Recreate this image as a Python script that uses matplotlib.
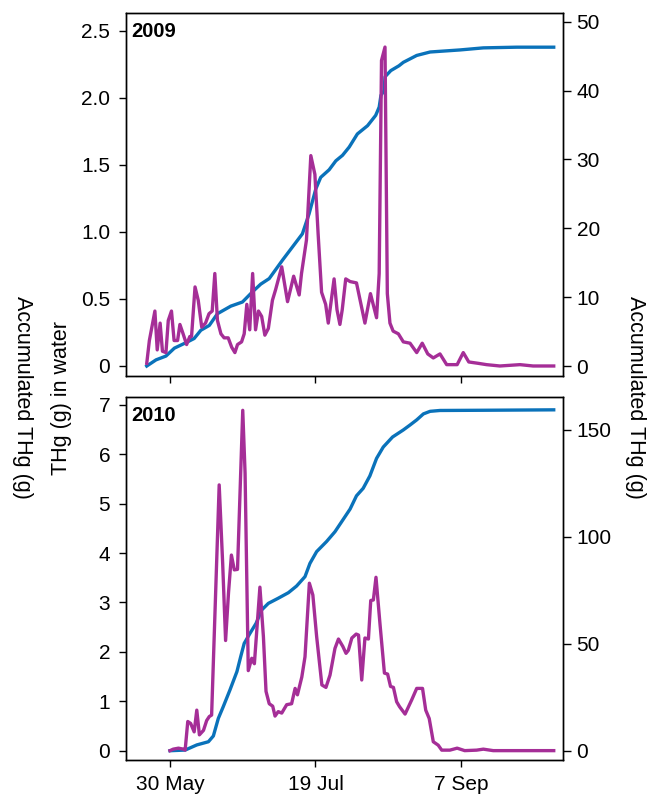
import numpy as np
import matplotlib
matplotlib.use("Agg")
import matplotlib.pyplot as plt

plt.rcParams["font.family"] = ["Liberation Sans", "DejaVu Sans"]
plt.rcParams["font.size"] = 15

# Days counted from 30 May
tick_days = [0, 50, 100]
tick_labels = ["30 May", "19 Jul", "7 Sep"]

# ---- 2009 ----
water09_day = [-8.0, -7.1, -5.2, -4.4, -3.4, -2.6, -1.4, -0.6, 0.5, 1.4, 2.6, 3.4, 4.5, 5.7,
               6.8, 7.4, 8.6, 9.7, 10.9, 12.2, 13.4, 14.5, 15.4, 16.3, 17.5, 18.6, 20.0,
               21.2, 22.3, 23.2, 24.6, 25.5, 26.4, 27.4, 28.4, 29.4, 30.4, 31.5, 32.6,
               33.8, 35.2, 36.3, 38.4, 40.4, 42.5, 44.4, 45.2, 46.9, 48.4, 49.8, 50.9,
               52.1, 53.5, 54.4, 56.4, 57.4, 58.4, 59.2, 60.4, 61.9, 64.1, 67.0, 68.9,
               71.0, 71.9, 72.7, 73.9, 74.7, 75.6, 76.7, 78.5, 80.2, 82.5, 84.8, 86.7,
               88.6, 90.5, 92.8, 95.1, 98.7, 100.8, 102.7, 105.9, 108.8, 113.4, 120.3,
               124.8, 131.9]
water09 = [0.02, 0.19, 0.41, 0.12, 0.32, 0.11, 0.10, 0.34, 0.41, 0.19, 0.19, 0.31, 0.24,
           0.16, 0.22, 0.22, 0.59, 0.49, 0.29, 0.32, 0.39, 0.41, 0.69, 0.34, 0.24, 0.21,
           0.21, 0.14, 0.10, 0.16, 0.18, 0.24, 0.46, 0.27, 0.69, 0.27, 0.41, 0.37, 0.23,
           0.28, 0.49, 0.57, 0.74, 0.48, 0.67, 0.53, 0.69, 0.94, 1.57, 1.43, 0.99, 0.55,
           0.46, 0.32, 0.65, 0.42, 0.31, 0.42, 0.65, 0.63, 0.62, 0.32, 0.54, 0.36, 0.69,
           2.28, 2.38, 0.54, 0.32, 0.26, 0.24, 0.18, 0.17, 0.10, 0.17, 0.09, 0.06, 0.09,
           0.01, 0.01, 0.10, 0.03, 0.02, 0.01, 0.00, 0.01, 0.00, 0.00]

accum09_day = [-8.0, -4.8, -1.4, 1.5, 5.5, 8.3, 10.6, 13.5, 16.3, 20.9, 24.9, 28.4, 31.2,
               34.1, 38.7, 42.1, 45.5, 47.8, 50.1, 51.8, 54.7, 57.0, 59.3, 61.6, 64.4,
               67.9, 70.7, 71.9, 72.5, 73.6, 73.9, 75.9, 78.7, 80.2, 84.8, 89.4, 92.8,
               99.7, 107.7, 119.2, 131.9]
accum09 = [0.0, 0.9, 1.45, 2.6, 3.4, 4.0, 5.2, 5.9, 7.6, 8.7, 9.3, 10.8, 11.9, 12.7, 15.4,
           17.3, 19.2, 22.1, 25.7, 27.4, 28.5, 29.8, 30.6, 31.8, 33.7, 34.9, 36.4, 37.6,
           39.3, 40.0, 42.0, 42.9, 43.6, 44.1, 45.1, 45.6, 45.7, 45.9, 46.2, 46.3, 46.3]

# ---- 2010 ----
water10_day = [0.0, 1.1, 2.9, 4.6, 5.2, 6.1, 7.1, 8.3, 9.2, 10.1, 11.5, 12.6, 13.5, 14.3,
               16.9, 18.1, 19.1, 20.1, 21.1, 22.1, 23.2, 25.0, 25.8, 26.9, 28.1, 29.0,
               30.9, 32.1, 33.0, 34.1, 35.3, 36.1, 37.2, 38.4, 40.1, 41.8, 43.0, 43.8,
               45.3, 46.4, 47.9, 49.1, 50.4, 52.2, 53.6, 55.0, 56.7, 57.9, 59.4, 60.5,
               61.3, 62.5, 64.0, 64.8, 65.9, 67.0, 68.2, 69.0, 69.9, 70.8, 72.2, 73.7,
               74.8, 75.8, 76.8, 77.9, 78.9, 80.8, 83.1, 84.8, 86.8, 87.9, 89.1, 90.5,
               92.2, 93.4, 96.2, 98.7, 101.3, 105.4, 107.7, 111.1, 131.9]
water10 = [0.00, 0.03, 0.05, 0.03, 0.01, 0.59, 0.55, 0.38, 0.82, 0.32, 0.41, 0.61, 0.69,
           0.72, 5.38, 3.79, 2.23, 3.19, 3.96, 3.66, 3.67, 6.89, 5.62, 1.62, 1.87, 1.76,
           3.31, 2.31, 1.20, 0.95, 0.90, 0.70, 0.79, 0.76, 0.93, 0.95, 1.26, 1.13, 1.49,
           1.90, 3.39, 3.15, 2.31, 1.33, 1.28, 1.53, 2.07, 2.26, 2.11, 1.97, 2.03, 2.28,
           2.36, 2.34, 1.43, 2.28, 2.26, 3.04, 3.05, 3.51, 2.55, 1.57, 1.55, 1.30, 1.28,
           0.99, 0.89, 0.74, 1.03, 1.26, 1.26, 0.82, 0.65, 0.18, 0.11, 0.01, 0.01, 0.05,
           0.00, 0.01, 0.03, 0.00, 0.00]

accum10_day = [0.0, 5.2, 9.2, 13.2, 14.9, 16.6, 18.3, 20.6, 23.0, 24.3, 25.5, 27.5, 29.6,
               31.5, 33.8, 37.2, 40.7, 43.5, 46.4, 48.1, 50.4, 53.8, 56.7, 59.4, 61.9,
               64.1, 66.4, 68.7, 71.0, 73.3, 76.5, 80.2, 82.5, 84.8, 87.1, 89.4, 92.8,
               107.7, 131.9]
accum10 = [0.0, 0.3, 2.7, 4.2, 6.9, 15.1, 20.6, 28.4, 37.0, 44.0, 50.2, 54.9, 59.6, 65.8,
           68.9, 71.3, 73.9, 77.0, 81.4, 87.6, 93.1, 97.8, 102.4, 107.9, 113.0, 119.2,
           122.7, 128.5, 136.7, 142.0, 146.7, 150.0, 152.3, 154.7, 157.5, 158.7, 159.1,
           159.2, 159.4]

PURPLE = "#A52E97"
BLUE = "#0A72BA"
LW = 2.4
FS = 15
LABEL_FS = 15.5

fig = plt.figure(figsize=(6.52, 7.94), dpi=100)
left, width, height = 0.1925, 0.6715, 0.4572
ax_top = fig.add_axes([left, 0.5264, width, height])
ax_bot = fig.add_axes([left, 0.0428, width, height])

panels = [
    (ax_top, "2009", water09_day, water09, accum09_day, accum09,
     (-0.075, 2.634), [0, 0.5, 1.0, 1.5, 2.0, 2.5], ["0", "0.5", "1.0", "1.5", "2.0", "2.5"],
     (-1.45, 51.26), [0, 10, 20, 30, 40, 50]),
    (ax_bot, "2010", water10_day, water10, accum10_day, accum10,
     (-0.19, 7.16), [0, 1, 2, 3, 4, 5, 6, 7], ["0", "1", "2", "3", "4", "5", "6", "7"],
     (-4.35, 165.4), [0, 50, 100, 150]),
]

for ax, year, wd, wv, ad, av, ylim, yt, ytl, ylim2, yt2 in panels:
    ax2 = ax.twinx()
    ax2.plot(ad, av, color=BLUE, lw=LW, solid_joinstyle="round", zorder=2)
    ax.plot(wd, wv, color=PURPLE, lw=LW, solid_joinstyle="round", zorder=3)
    ax.set_zorder(ax2.get_zorder() + 1)
    ax.patch.set_visible(False)

    ax.set_xlim(-15.3, 135.2)
    ax.set_ylim(*ylim)
    ax.set_yticks(yt)
    ax.set_yticklabels(ytl)
    ax2.set_ylim(*ylim2)
    ax2.set_yticks(yt2)
    ax.set_xticks(tick_days)
    if ax is ax_bot:
        ax.set_xticklabels(tick_labels)
    else:
        ax.set_xticklabels([])

    ax.tick_params(axis="y", direction="out", length=5, width=1, labelsize=FS, pad=6)
    ax.tick_params(axis="x", direction="out", length=5, width=1, labelsize=FS, pad=6)
    ax2.tick_params(axis="y", direction="out", length=5.5, width=1, labelsize=FS, pad=4)
    for a in (ax, ax2):
        for s in a.spines.values():
            s.set_linewidth(1)
            s.set_color("black")

    ax.text(0.012, 0.975, year, transform=ax.transAxes, ha="left", va="top",
            fontsize=14.5, fontweight="bold")

fig.text(0.034, 0.499, "Accumulated THg (g)", rotation=-90, ha="center", va="center",
         fontsize=LABEL_FS)
fig.text(0.095, 0.499, "THg (g) in water", rotation=90, ha="center", va="center",
         fontsize=LABEL_FS)
fig.text(0.975, 0.499, "Accumulated THg (g)", rotation=-90, ha="center", va="center",
         fontsize=LABEL_FS)

fig.savefig("out.png", dpi=100)
